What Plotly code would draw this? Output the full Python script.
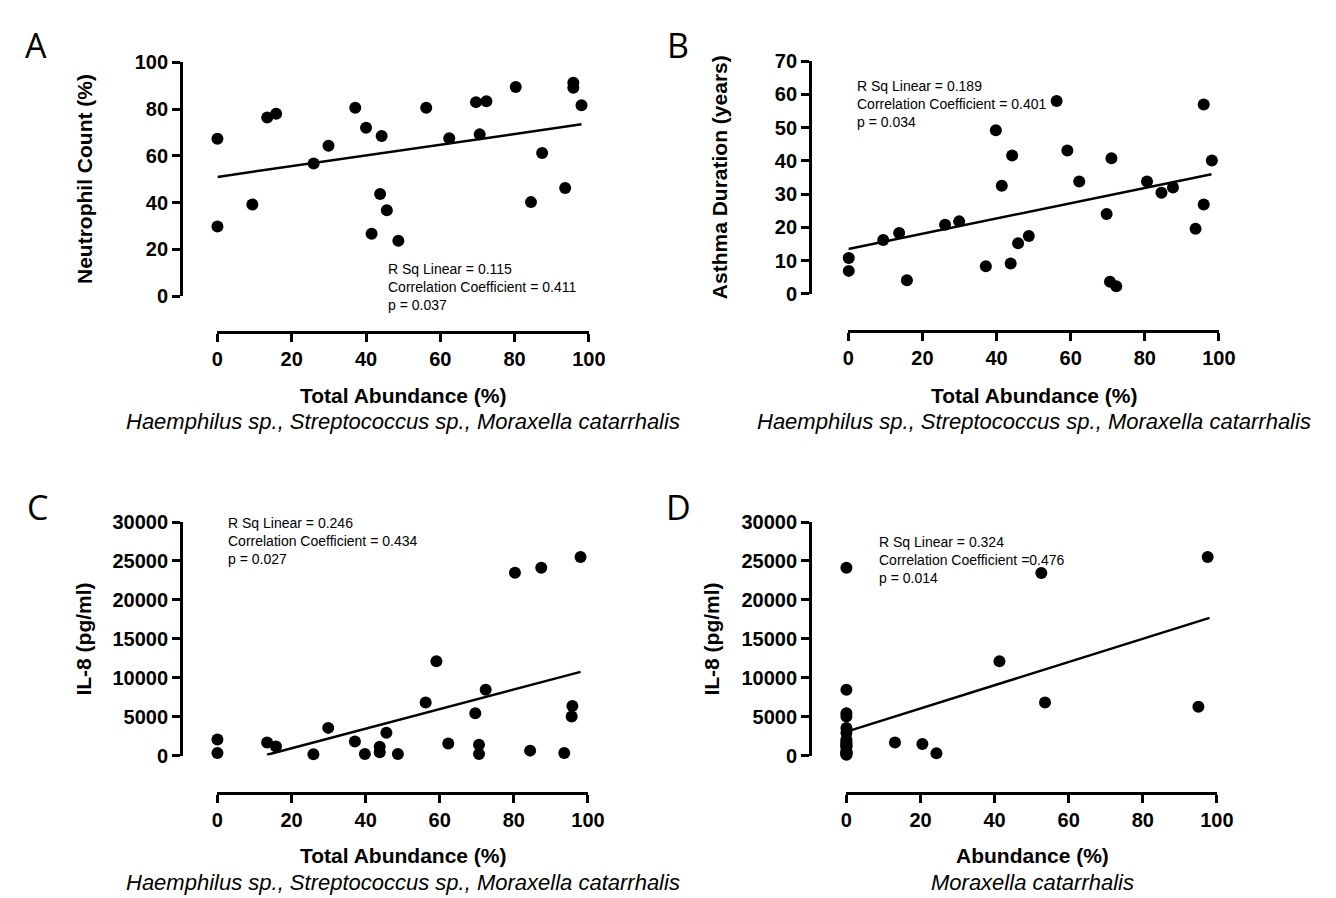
import plotly.graph_objects as go

W, H = 1336, 898

# ---------------- data ----------------
# Panel A: Neutrophil count vs total abundance
a_x = [0, 0, 9.4, 13.4, 15.8, 25.9, 29.9, 37.1, 40.0, 41.5, 43.8, 44.2, 45.6, 48.7,
       56.2, 62.4, 69.6, 70.6, 72.4, 80.3, 84.4, 87.4, 93.6, 95.8, 95.8, 98.0]
a_y = [67.3, 29.8, 39.2, 76.4, 78.0, 56.7, 64.3, 80.6, 72.0, 26.7, 43.7, 68.5, 36.7, 23.7,
       80.6, 67.5, 83.0, 69.2, 83.4, 89.5, 40.2, 61.2, 46.2, 91.3, 89.2, 81.7]
a_fit_x = [0, 98]
a_fit_y = [51.0, 73.5]

# Panel B: Asthma duration vs total abundance
b_x = [0.1, 0.1, 9.4, 13.7, 15.8, 26.1, 29.9, 37.1, 39.8, 41.4, 43.8, 44.2, 45.8, 48.7,
       56.2, 59.1, 62.3, 69.7, 71.0, 70.6, 72.3, 80.6, 84.5, 87.6, 93.7, 95.9, 95.9, 98.1]
b_y = [10.8, 6.9, 16.2, 18.3, 4.1, 20.8, 21.8, 8.3, 49.2, 32.5, 9.1, 41.6, 15.2, 17.4,
       58.0, 43.1, 33.8, 24.0, 40.8, 3.6, 2.3, 33.8, 30.4, 32.0, 19.6, 57.0, 26.9, 40.1]
b_fit_x = [0, 98]
b_fit_y = [13.5, 36.0]

# Panel C: IL-8 vs total abundance
c_x = [0, 0, 13.4, 15.8, 25.9, 29.9, 37.1, 39.8, 43.8, 43.8, 45.6, 48.7, 56.2, 59.1,
       62.3, 69.6, 70.6, 70.6, 72.4, 80.3, 84.4, 87.4, 93.6, 95.8, 95.6, 98.0]
c_y = [2044, 334, 1672, 1170, 150, 3550, 1800, 200, 1130, 420, 2925, 200, 6810, 12120,
       1545, 5430, 1380, 200, 8440, 23490, 627, 24120, 334, 6350, 5016, 25500]
c_fit_x = [13.4, 98]
c_fit_y = [100, 10750]

# Panel D: IL-8 vs Moraxella catarrhalis abundance
d_x = [0] * 18 + [13.1, 20.5, 24.3, 41.3, 52.6, 53.6, 95.0, 97.5]
d_y = [24120, 8440, 5430, 5016, 3550, 2925, 2044, 1800, 1545, 1380, 1170, 1130, 627, 420,
       334, 200, 150, 100,
       1672, 1463, 293, 12120, 23450, 6810, 6270, 25500]
d_fit_x = [0.5, 98]
d_fit_y = [3135, 17680]

stats_a = ["R Sq Linear = 0.115", "Correlation Coefficient = 0.411", "p = 0.037"]
stats_b = ["R Sq Linear = 0.189", "Correlation Coefficient = 0.401", "p = 0.034"]
stats_c = ["R Sq Linear = 0.246", "Correlation Coefficient = 0.434", "p = 0.027"]
stats_d = ["R Sq Linear = 0.324", "Correlation Coefficient =0.476", "p = 0.014"]

ytitles = ["Neutrophil Count (%)", "Asthma Duration (years)", "IL-8 (pg/ml)", "IL-8 (pg/ml)"]
xtitles = ["Total Abundance (%)", "Total Abundance (%)", "Total Abundance (%)", "Abundance (%)"]
subtitles = ["Haemphilus sp., Streptococcus sp., Moraxella catarrhalis",
             "Haemphilus sp., Streptococcus sp., Moraxella catarrhalis",
             "Haemphilus sp., Streptococcus sp., Moraxella catarrhalis",
             "Moraxella catarrhalis"]
letters = ["A", "B", "C", "D"]

# ---------------- layout geometry (pixels) ----------------
panels = [
    # x0, x1 of x axis, y of x-axis line, y-axis line x, y-top, y-bottom, yrange, dtick
    dict(x0=207, x1=585, xline=321, yline=170, yt=44.5, yb=284, yr=[0, 100], dt=20,
         ytx=71, xtx=396, xty=386, sty=413, lx=22, ly=27, sx=379, sy=246),
    dict(x0=849, x1=1226, xline=320, yline=810, yt=43.3, yb=281.7, yr=[0, 70], dt=10,
         ytx=718, xtx=1038, xty=386, sty=413, lx=676, ly=27, sx=856, sy=58),
    dict(x0=207, x1=584, xline=793, yline=170, yt=515.7, yb=755, yr=[0, 30000], dt=5000,
         ytx=71, xtx=396, xty=858, sty=885, lx=24, ly=500, sx=216, sy=506),
    dict(x0=847, x1=1224, xline=793, yline=810, yt=515.7, yb=755, yr=[0, 30000], dt=5000,
         ytx=710, xtx=1036, xty=858, sty=885, lx=676, ly=500, sx=878, sy=526),
]

series = [(a_x, a_y, a_fit_x, a_fit_y, stats_a),
          (b_x, b_y, b_fit_x, b_fit_y, stats_b),
          (c_x, c_y, c_fit_x, c_fit_y, stats_c),
          (d_x, d_y, d_fit_x, d_fit_y, stats_d)]

def px(x):
    return x / W

def py(y):
    return 1 - y / H

fig = go.Figure()
annotations = []
tickfont = dict(family="Liberation Sans, Arial", size=20, color="black", weight="bold")

for i, (p, (sx_, sy_, fx, fy, st)) in enumerate(zip(panels, series)):
    n = "" if i == 0 else str(i + 1)
    xa = "x" + n
    ya = "y" + n
    fig.add_trace(go.Scatter(x=fx, y=fy, mode="lines", xaxis=xa, yaxis=ya,
                             line=dict(color="black", width=2.5), cliponaxis=False,
                             showlegend=False, hoverinfo="skip"))
    fig.add_trace(go.Scatter(x=sx_, y=sy_, mode="markers", xaxis=xa, yaxis=ya,
                             marker=dict(color="black", size=12), cliponaxis=False,
                             showlegend=False))
    common = dict(showgrid=False, zeroline=False, showline=True, linecolor="black",
                  linewidth=3, ticks="outside", ticklen=8, tickwidth=3, tickcolor="black",
                  tickfont=tickfont, fixedrange=True)
    fig.layout["xaxis" + n] = dict(domain=[px(p["x0"]), px(p["x1"])], range=[0, 100],
                                  tick0=0, dtick=20, anchor="free",
                                  position=py(p["xline"]), **common)
    fig.layout["yaxis" + n] = dict(domain=[py(p["yb"]), py(p["yt"])], range=p["yr"],
                                  tick0=0, dtick=p["dt"], anchor="free",
                                  position=px(p["yline"]), tickformat="d", **common)
    # axis titles
    annotations.append(dict(text=ytitles[i], x=px(p["ytx"]), y=py((p["yt"] + p["yb"]) / 2),
                            xref="paper", yref="paper", showarrow=False, textangle=-90,
                            xanchor="center", yanchor="middle",
                            font=dict(family="Liberation Sans, Arial", size=21,
                                      color="black", weight="bold")))
    annotations.append(dict(text=xtitles[i], x=px(p["xtx"]), y=py(p["xty"]),
                            xref="paper", yref="paper", showarrow=False,
                            xanchor="center", yanchor="middle",
                            font=dict(family="Liberation Sans, Arial", size=21,
                                      color="black", weight="bold")))
    annotations.append(dict(text="<i>" + subtitles[i] + "</i>", x=px(p["xtx"]), y=py(p["sty"]),
                            xref="paper", yref="paper", showarrow=False,
                            xanchor="center", yanchor="middle",
                            font=dict(family="Liberation Sans, Arial", size=22, color="black")))
    annotations.append(dict(text=letters[i], x=px(p["lx"]), y=py(p["ly"]),
                            xref="paper", yref="paper", showarrow=False,
                            xanchor="center", yanchor="middle",
                            font=dict(family="Open Sans, Noto Sans", size=34, color="black")))
    annotations.append(dict(text="<br>".join(st), x=px(p["sx"]), y=py(p["sy"]),
                            xref="paper", yref="paper", showarrow=False, align="left",
                            xanchor="left", yanchor="top",
                            font=dict(family="Liberation Sans, Arial", size=14, color="black")))

fig.update_layout(width=W, height=H, margin=dict(l=0, r=0, t=0, b=0),
                  paper_bgcolor="white", plot_bgcolor="white",
                  annotations=annotations, showlegend=False)

fig.write_html("out.html", config={"displayModeBar": False})
